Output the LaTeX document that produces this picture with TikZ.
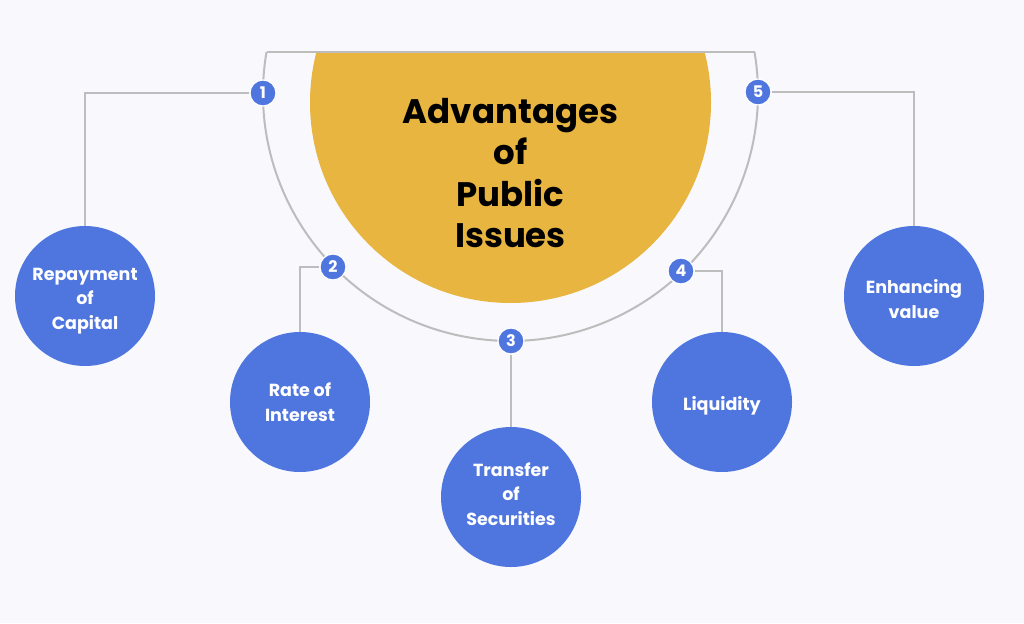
\documentclass[tikz,border=0pt]{standalone}
\usepackage{fontspec}
\setmainfont{Poppins}
\definecolor{bgc}{HTML}{F8F8FD}
\definecolor{goldc}{HTML}{E8B540}
\definecolor{bluec}{HTML}{4F75DF}
\definecolor{linec}{HTML}{BDBDBD}
\tikzset{
  conn/.style={draw=linec, line width=2pt},
  numdot/.style={circle, fill=bluec, draw=white, line width=1.2pt, minimum size=26pt, inner sep=0pt,
    text=white, font=\fontsize{16}{16}\selectfont\bfseries},
  topic/.style={circle, fill=bluec, minimum size=140pt, inner sep=0pt},
  topictext/.style={inner sep=0pt, text=white, align=center,
    font=\fontsize{17.5}{24.5}\selectfont\bfseries},
  titletext/.style={inner sep=0pt, align=center, text=black,
    font=\fontsize{34}{41.5}\selectfont\bfseries}
}
\begin{document}
\begin{tikzpicture}[x=1pt,y=1pt]
\fill[bgc] (0,0) rectangle (1024,-623);
\useasboundingbox (0,0) rectangle (1024,-623);
% yellow half disc
\begin{scope}
  \clip (0,-52) rectangle (1024,-623);
  \fill[goldc] (510.5,-102.5) circle[radius=200.5];
\end{scope}
\node[titletext] (title) at (510.5,-173) {Advantages\\of\\Public\\Issues};
% frame: top line and arc
\draw[conn] (266.5,-52) -- (754.5,-52);
\draw[conn] (266.5,-52) arc[start angle=170.35, end angle=369.65, radius=247.5];
% topic circles
\node[topic, label={[topictext, yshift=-5pt]center:Repayment\\of\\Capital}] (b1) at (85,-296) {};
\node[topic, label={[topictext]center:Rate of\\Interest}] (b2) at (300,-402) {};
\node[topic, label={[topictext, yshift=3pt]center:Transfer\\of\\Securities}] (b3) at (511,-497) {};
\node[topic, label={[topictext, yshift=-4pt]center:Liquidity}] (b4) at (722,-402) {};
\node[topic, label={[topictext, yshift=-3pt]center:Enhancing\\value}] (b5) at (914,-296) {};
% number dots
\node[numdot] (n1) at (263,-93) {1};
\node[numdot] (n2) at (333,-267) {2};
\node[numdot] (n3) at (511,-341) {3};
\node[numdot] (n4) at (681,-271) {4};
\node[numdot] (n5) at (758,-92) {5};
% connectors
\draw[conn] (n1) -| (b1);
\draw[conn] (n2) -| (b2);
\draw[conn] (n3) -- (b3);
\draw[conn] (n4) -| (b4);
\draw[conn] (n5) -| (b5);
\end{tikzpicture}
\end{document}
